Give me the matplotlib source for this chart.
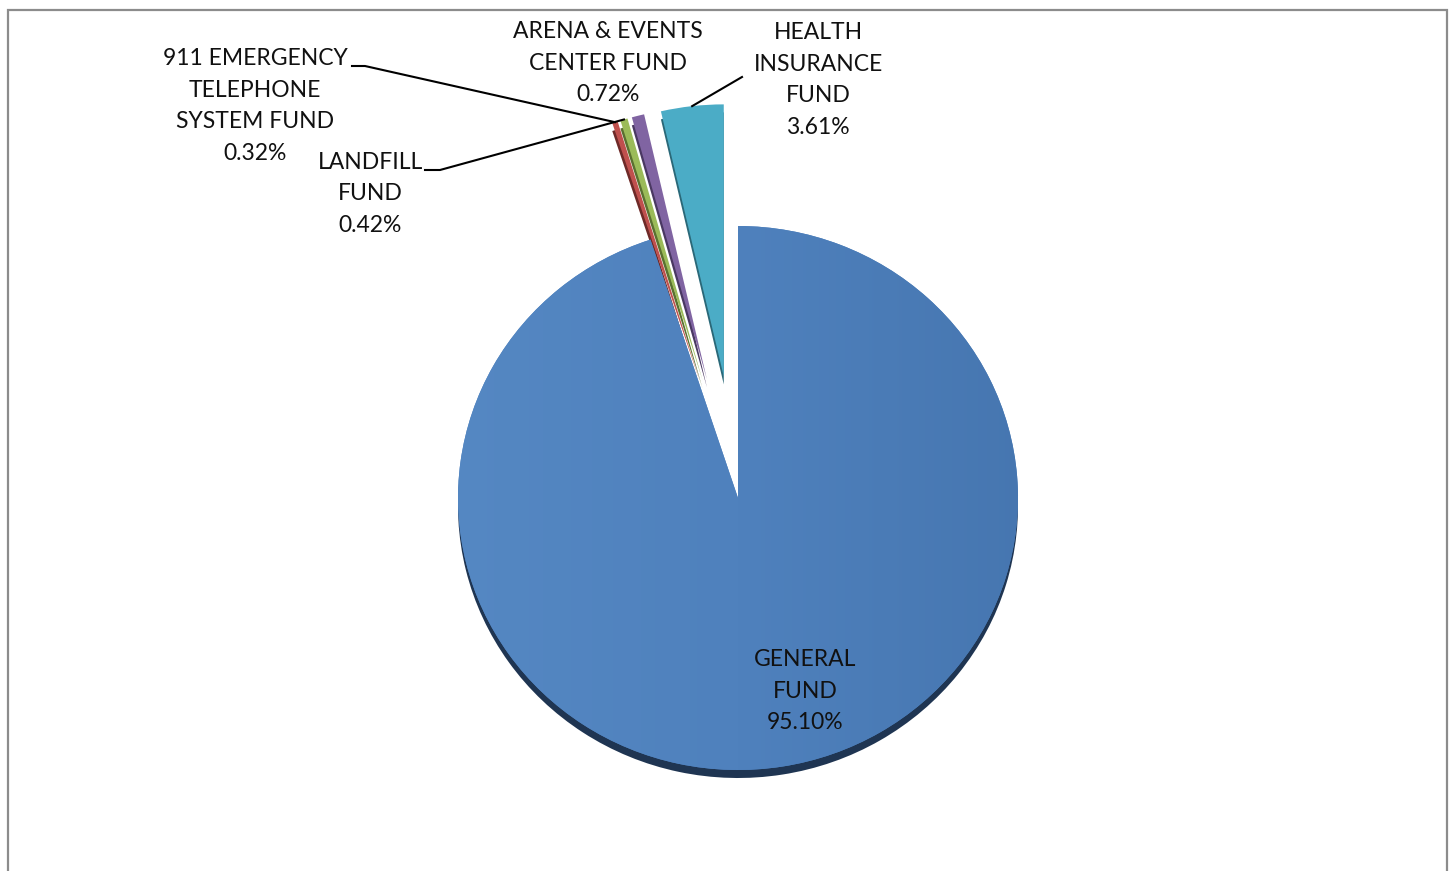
import numpy as np
import matplotlib.pyplot as plt
from matplotlib.patches import Rectangle
from matplotlib.lines import Line2D
from matplotlib.colors import LinearSegmentedColormap

plt.rcParams['font.family'] = ['Lato', 'DejaVu Sans']

funds = ['GENERAL\nFUND', '911 EMERGENCY\nTELEPHONE\nSYSTEM FUND', 'LANDFILL\nFUND',
         'ARENA & EVENTS\nCENTER FUND', 'HEALTH\nINSURANCE\nFUND']
shares = [95.10, 0.32, 0.42, 0.72, 3.61]
colors = ['#4f81bd', '#c0504d', '#9bbb59', '#8064a2', '#4bacc6']
shadow_colors = ['#1f3552', '#6e2a28', '#5a7030', '#4a3862', '#2a6878']
explode = [0, 0.45, 0.45, 0.45, 0.45]

W, H = 1452, 871
cx, cy = 738, 498        # pie centre in pixels (from top-left)
rx, ry = 280, 272        # on-screen radii

fig = plt.figure(figsize=(W / 100, H / 100), dpi=100)
ax = fig.add_axes([0, 0, 1, 1])
ax.set_axis_off()


def pie(ax, cols, dy=0.0):
    return ax.pie(shares, colors=cols, explode=explode, startangle=90,
                  counterclock=False, center=(0, dy), normalize=True,
                  wedgeprops=dict(linewidth=0, antialiased=True))


# dark copy underneath gives the slab edge
pie(ax, shadow_colors, dy=-8 / ry)
wedges, _ = pie(ax, colors)

# soft left-to-right shading on the big slice
grad = np.linspace(0, 1, 256)[None, :]
cmap = LinearSegmentedColormap.from_list('blue', ['#5588c3', '#4f81bd', '#4676b0'])
img = ax.imshow(grad, cmap=cmap, extent=(-1.05, 1.05, -1.05, 1.05), aspect='auto', zorder=1.5)
img.set_clip_path(wedges[0])

ax.set_aspect('auto')
ax.set_xlim(-cx / rx, (W - cx) / rx)
ax.set_ylim(-(H - cy) / ry, cy / ry)

fig.patches.append(Rectangle((8 / W, -0.05), 1439 / W, (H - 10) / H + 0.05,
                             transform=fig.transFigure, fill=False,
                             edgecolor='#8c8c8c', linewidth=1.6))


def tip(i):
    # outer point of slice i along its mid angle, including explode offset
    start = 90 - 360 * sum(shares[:i]) / sum(shares)
    mid = np.deg2rad(start - 180 * shares[i] / sum(shares))
    r = 1 + explode[i]
    return ax.transData.transform((r * np.cos(mid), r * np.sin(mid)))


def px(x, y):
    return x / W, 1 - y / H


labels = [f'{f}\n{s:.2f}%' for f, s in zip(funds, shares)]
label_pos = [(805, 691), (255, 106), (370, 194), (608, 63), (818, 80)]
for lab, (x, y) in zip(labels, label_pos):
    fig.text(*px(x, y), lab, ha='center', va='center', fontsize=16.5,
             linespacing=1.63, color='#111111')

# leader lines: short horizontal run then on to the slice tip
leaders = {1: (352, 66, 365), 2: (425, 170, 440)}
for i, (x0, y0, x1) in leaders.items():
    tx, ty = tip(i)
    fig.lines.append(Line2D([x0 / W, x1 / W, tx / W], [1 - y0 / H, 1 - y0 / H, ty / H],
                            transform=fig.transFigure, color='black', linewidth=1.5))
tx, ty = tip(4)
fig.lines.append(Line2D([tx / W, 742 / W], [ty / H, 1 - 77 / H],
                        transform=fig.transFigure, color='black', linewidth=1.5))

fig.savefig('out.png', dpi=100)
